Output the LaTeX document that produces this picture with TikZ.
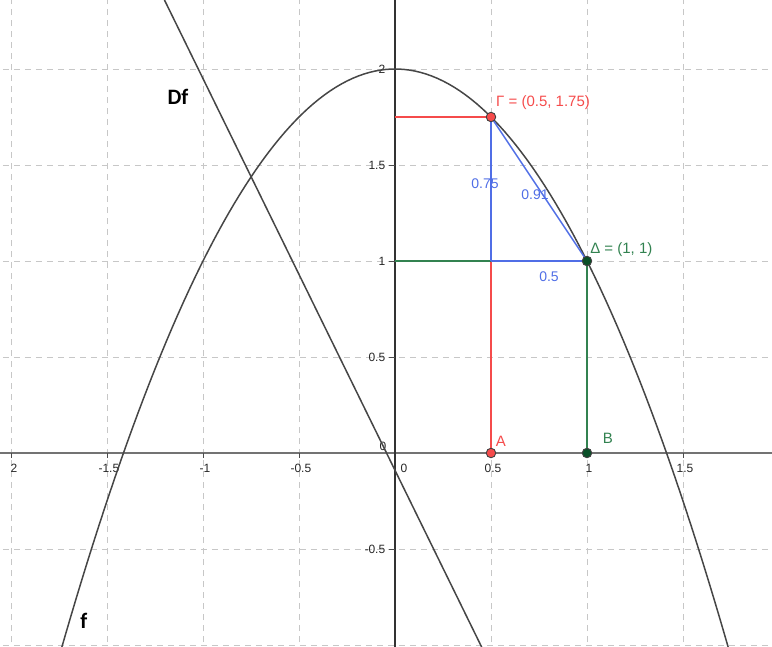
\documentclass[tikz,border=0pt]{standalone}
\usepackage{fontspec}
\setmainfont{Liberation Sans}
\newfontfamily\califont{Carlito}
\definecolor{gred}{RGB}{245,75,75}
\definecolor{gblue}{RGB}{80,110,230}
\definecolor{ggreen}{RGB}{50,130,80}
\definecolor{gdkgreen}{RGB}{10,80,40}
\definecolor{curvecol}{RGB}{70,70,70}
\begin{document}
\begin{tikzpicture}[x=192pt,y=192pt,
  gridline/.style={draw=black!22, line width=0.9pt, dash pattern=on 6pt off 5pt},
  ticklab/.style={font=\fontsize{12}{12}\selectfont, text=black!85, inner sep=0pt},
  seglab/.style={font=\fontsize{14}{14}\selectfont, inner sep=0pt},
  ptlab/.style={font=\fontsize{15}{15}\selectfont, inner sep=0pt},
  biglab/.style={font=\califont\bfseries\fontsize{22}{22}\selectfont, inner sep=0pt},
  redline/.style={draw=gred, line width=1.4pt},
  blueline/.style={draw=gblue, line width=1.4pt},
  greenline/.style={draw=ggreen, line width=1.4pt},
  curve/.style={draw=curvecol, line width=1.5pt},
  dot/.style={circle, inner sep=0pt, minimum size=9.5pt, draw=black!75, line width=0.9pt}
]
\useasboundingbox (-2.0573,-1.0052) rectangle (1.9635,2.3594);
\clip (-2.0573,-1.0052) rectangle (1.9635,2.3594);
% grid
\foreach \gx in {-2,-1.5,-1,-0.5,0.5,1,1.5}
  \draw[gridline] (\gx,-1.1) -- (\gx,2.4);
\foreach \gy in {-1,-0.5,0.5,1,1.5,2}
  \draw[gridline] (-2.1,\gy) -- (2,\gy);
% axes
\draw[draw=black!55, line width=2.6pt] (-2.1,0) -- (2,0);
\draw[draw=black!80, line width=1.3pt] (0,-1.1) -- (0,2.4);
% ticks
\foreach \gx in {-2,-1.5,-1,-0.5,0.5,1,1.5}
  \draw[draw=black!70, line width=0.9pt] (\gx,0) -- (\gx,-0.025);
\foreach \gy in {-0.5,0.5,1,1.5,2}
  \draw[draw=black!70, line width=0.9pt] (0,\gy) -- (-0.03,\gy);
% tick labels
\node[ticklab] (xlm2) at (-1.985,-0.078) {2};
\foreach \gx/\lab in {-1.5/-1.5,-1/-1,-0.5/-0.5,0.5/0.5,1/1,1.5/1.5}
  \node[ticklab] (xl\lab) at (\gx+0.01,-0.078) {\lab};
\node[ticklab] (xl0) at (0.047,-0.078) {0};
\foreach \gy/\lab in {-0.5/-0.5,0.5/0.5,1/1,1.5/1.5,2/2}
  \node[ticklab, anchor=east] (yl\lab) at (-0.05,\gy) {\lab};
\node[ticklab] (yl0) at (-0.0625,0.036) {0};
% curves
\draw[curve] plot[domain=-1.75:1.75, samples=120] (\x,{2-\x*\x});
\coordinate (dfa) at (-1.25,2.46);
\coordinate (dfb) at (0.5,-1.11);
\draw[curve] (dfa) -- (dfb);
% points
\coordinate (G) at (0.5,1.75);
\coordinate (D) at (1,1);
\coordinate (A) at (0.5,0);
\coordinate (B) at (1,0);
\coordinate (M) at (0.5,1);
\coordinate (Y1) at (0,1);
\coordinate (Y2) at (0,1.75);
\draw[redline] (Y2) -- (G);
\draw[redline] (A) -- (M);
\draw[greenline] (Y1) -- (M);
\draw[greenline] (B) -- (D);
\draw[blueline] (M) -- (G);
\draw[blueline] (M) -- (D);
\draw[blueline] (G) -- (D);
\node[dot, fill=gred] (Gd) at (G) {};
\node[dot, fill=gdkgreen] (Dd) at (D) {};
\node[dot, fill=gred] (Ad) at (A) {};
\node[dot, fill=gdkgreen] (Bd) at (B) {};
% labels
\node[seglab, text=gblue] (l075) at (0.469,1.401) {0.75};
\node[seglab, text=gblue] (l091) at (0.729,1.344) {0.91};
\node[seglab, text=gblue] (l05) at (0.802,0.917) {0.5};
\node[ptlab, text=gred, anchor=west] (lG) at (0.526,1.823) {Γ = (0.5, 1.75)};
\node[ptlab, text=ggreen, anchor=west] (lD) at (1.016,1.057) {Δ = (1, 1)};
\node[ptlab, text=gred] (lA) at (0.552,0.0625) {A};
\node[ptlab, text=ggreen] (lB) at (1.109,0.078) {B};
\node[biglab] (lDf) at (-1.130,1.854) {Df};
\node[biglab] (lf) at (-1.620,-0.875) {f};
\end{tikzpicture}
\end{document}
